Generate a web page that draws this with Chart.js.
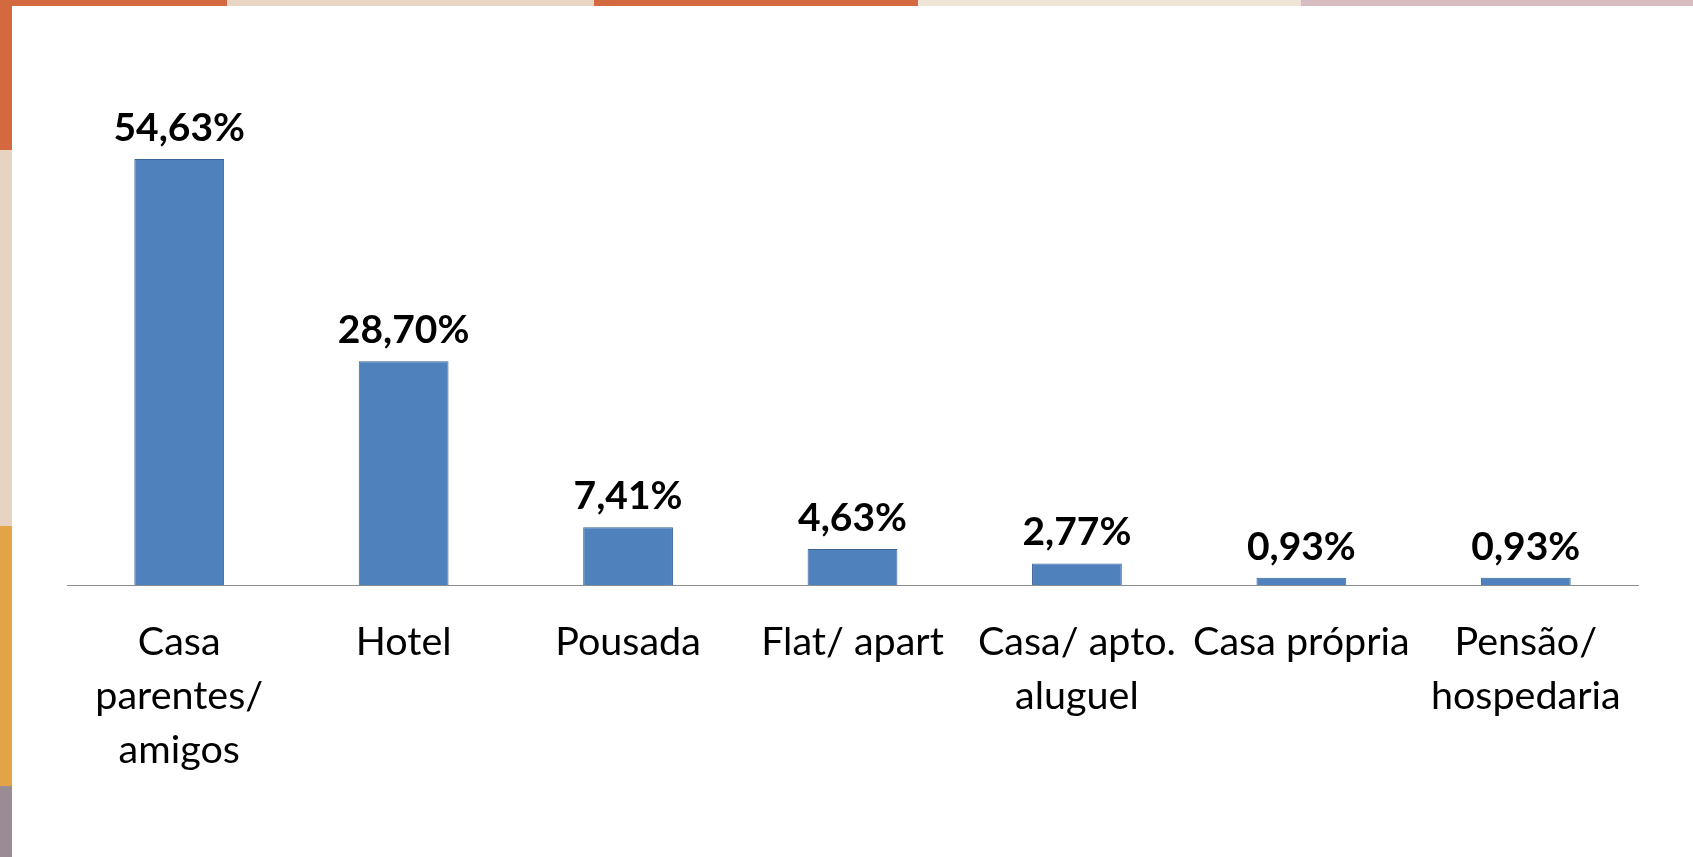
<!DOCTYPE html>
<html lang="pt">
<head>
    <meta charset="UTF-8" />
    <title>Tipo de hospedagem</title>
    <script src="https://cdn.jsdelivr.net/npm/chart.js"></script>
    <style>
        body {
            margin: 0;
            width: 1693px;
            height: 857px;
            overflow: hidden;
            position: relative;
            background: #fff;
        }
        .top-strip {
            position: absolute;
            left: 0; top: 0;
            width: 1693px; height: 6px;
            background: linear-gradient(to right,
                #d4693f 0 227px, #e8d5c4 227px 594px, #d4693f 594px 918px,
                #efe4d6 918px 1301px, #d6bcc0 1301px 1693px);
        }
        .left-strip {
            position: absolute;
            left: 0; top: 0;
            width: 12px; height: 857px;
            background: linear-gradient(to bottom,
                #d4693f 0 150px, #e6d3c2 150px 526px, #e3a448 526px 786px,
                #9a8c94 786px 857px);
        }
        canvas {
            position: absolute;
            left: 0; top: 0;
        }
    </style>
</head>
<body>

<div class="top-strip"></div>
<div class="left-strip"></div>
<canvas id="chart" width="1693" height="857"></canvas>

<script>
    const categories = [
        ['Casa', 'parentes/', 'amigos'],
        'Hotel',
        'Pousada',
        'Flat/ apart',
        ['Casa/ apto.', 'aluguel'],
        'Casa própria',
        ['Pensão/', 'hospedaria']
    ];
    const shares = [54.63, 28.70, 7.41, 4.63, 2.77, 0.93, 0.93];

    const yMin = 0;
    const yMax = 60;

    // value labels above each bar, placed from the bar elements
    const valueLabels = {
        id: 'valueLabels',
        afterDatasetsDraw(chart) {
            const ctx = chart.ctx;
            const meta = chart.getDatasetMeta(0);
            ctx.save();
            ctx.font = 'bold 39px Lato';
            ctx.fillStyle = '#000';
            ctx.textAlign = 'center';
            ctx.textBaseline = 'alphabetic';
            meta.data.forEach((bar, i) => {
                const text = shares[i].toFixed(2).replace('.', ',') + '%';
                ctx.fillText(text, bar.x, bar.y - 18);
            });
            ctx.restore();
        }
    };

    new Chart(document.getElementById('chart'), {
        type: 'bar',
        data: {
            labels: categories,
            datasets: [{
                data: shares,
                backgroundColor: '#4f81bd',
                borderColor: '#3b6497',
                borderWidth: 1,
                barPercentage: 0.4,
                categoryPercentage: 1
            }]
        },
        options: {
            responsive: false,
            animation: false,
            layout: {
                padding: { left: 67, right: 55, top: 117, bottom: 0 }
            },
            plugins: {
                legend: { display: false },
                tooltip: { enabled: false }
            },
            scales: {
                x: {
                    grid: { display: false, drawTicks: false },
                    border: { display: true, color: '#8c8c8c', width: 1 },
                    ticks: {
                        color: '#000',
                        font: { family: 'Lato', size: 39.5, lineHeight: '54px' },
                        padding: 30,
                        autoSkip: false,
                        maxRotation: 0,
                        minRotation: 0
                    },
                    afterFit(scale) {
                        scale.height = 857 - 585;
                    }
                },
                y: {
                    display: false,
                    min: yMin,
                    max: yMax
                }
            }
        },
        plugins: [valueLabels]
    });
</script>

</body>
</html>
